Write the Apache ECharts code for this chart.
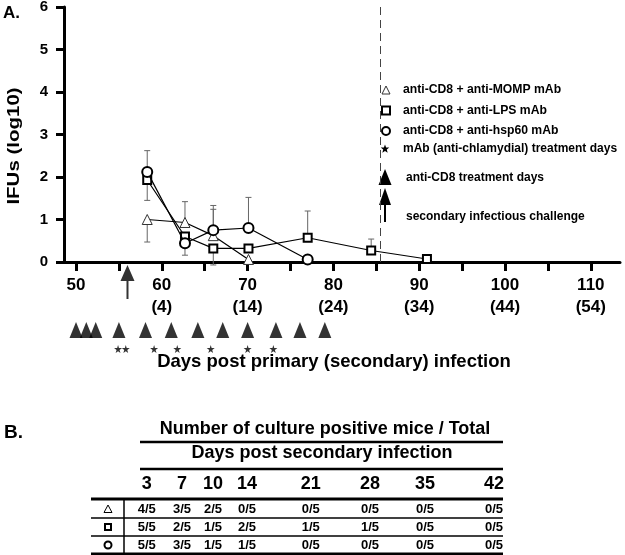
<!DOCTYPE html>
<html>
<head>
<meta charset="utf-8">
<script src="https://cdn.jsdelivr.net/npm/echarts@6/dist/echarts.min.js"></script>
<style>
html,body{margin:0;padding:0;background:#fff;}
#c{width:625px;height:555px;}
</style>
</head>
<body>
<div id="c"></div>
<script>
// ---------- DATA ----------
const sampleDays = [58.3, 62.7, 66, 70.1, 77, 84.4, 90.9];
const momp = [1.0, 0.93, 0.62, 0.06];
const lps = [1.93, 0.6, 0.32, 0.32, 0.57, 0.27, 0.07];
const hsp60 = [2.12, 0.44, 0.75, 0.8, 0.06];
// error bars: [day, low, high]
const mompErr = [[58.3, 0.47, 1.0], [62.7, 0.93, 1.42], [66, 0.62, 1.24]];
const lpsErr = [[58.3, 1.45, 1.93], [66, -0.07, 0.32], [77, 0.57, 1.2], [84.4, 0.27, 0.54]];
const hspErr = [[58.3, 2.12, 2.62], [62.7, 0.16, 0.44], [66, 0.75, 1.33], [70.1, 0.8, 1.52]];
const cd8Days = [50, 51.2, 52.3, 55, 58.1, 61.1, 64.2, 67.1, 70, 73.3, 76.1, 79];
const mAbDays = [54.9, 55.8, 59.1, 61.8, 65.7, 70, 73];
const challengeDay = [56];
const dashedDay = 85.5;
const xTickValues = [50, 60, 70, 80, 90, 100, 110];
const xTickLabels = ['50', '60\n(4)', '70\n(14)', '80\n(24)', '90\n(34)', '100\n(44)', '110\n(54)'];
const xMinorTicks = [50, 55, 60, 65, 70, 75, 80, 85, 90, 95, 100, 105, 110];
const seriesNames = ['anti-CD8 + anti-MOMP mAb', 'anti-CD8 + anti-LPS mAb', 'anti-CD8 + anti-hsp60 mAb'];
const tableDays = ['3', '7', '10', '14', '21', '28', '35', '42'];
const tableMOMP = ['4/5', '3/5', '2/5', '0/5', '0/5', '0/5', '0/5', '0/5'];
const tableLPS = ['5/5', '2/5', '1/5', '2/5', '1/5', '1/5', '0/5', '0/5'];
const tableHSP = ['5/5', '3/5', '1/5', '1/5', '0/5', '0/5', '0/5', '0/5'];

// ---------- BUILD ----------
const FONT = 'Liberation Sans, Arial, Helvetica, sans-serif';
const zip = (xs, ys) => ys.map((v, i) => [xs[i], v]);
const chart = echarts.init(document.getElementById('c'));

function errRender(params, api) {
  const x = api.value(0), lo = api.value(1), hi = api.value(2);
  const a = api.coord([x, lo]), b = api.coord([x, hi]);
  const st = {stroke: '#666', lineWidth: 1};
  return {type: 'group', children: [
    {type: 'line', shape: {x1: a[0], y1: a[1], x2: b[0], y2: b[1]}, style: st},
    {type: 'line', shape: {x1: a[0] - 3, y1: a[1], x2: a[0] + 3, y2: a[1]}, style: st},
    {type: 'line', shape: {x1: b[0] - 3, y1: b[1], x2: b[0] + 3, y2: b[1]}, style: st}
  ]};
}

const xMin = 48.6, xMax = 113.4;
const starPath = 'path://M50,0 L61,35 L98,35 L68,57 L79,91 L50,70 L21,91 L32,57 L2,35 L39,35 Z';
const arrowPath = 'path://M7,0 L14,16 L8,16 L8,34 L6,34 L6,16 L0,16 Z';

function starPoints(cx, cy, R) {
  const pts = [];
  for (let i = 0; i < 10; i++) {
    const r = i % 2 === 0 ? R : R * 0.42;
    const a = -Math.PI / 2 + i * Math.PI / 5;
    pts.push([cx + r * Math.cos(a), cy + r * Math.sin(a)]);
  }
  return pts;
}

const graphics = [];
const T = (x, y, text, size, opts = {}) => graphics.push(Object.assign({
  type: 'text', x, y, style: Object.assign({text, fontFamily: FONT, fontWeight: 'bold', fontSize: size, fill: '#000',
    textAlign: 'left', textVerticalAlign: 'middle'}, opts.style || {})
}, opts.el || {}));
const L = (x1, y1, x2, y2, w) => graphics.push({type: 'line', shape: {x1, y1, x2, y2}, style: {stroke: '#000', lineWidth: w}});

// panel A texts
T(3, 13, 'A.', 17);
graphics.push({type: 'text', x: 15, y: 146, rotation: Math.PI / 2, scaleX: 1.28,
  style: {text: 'IFUs (log10)', fontFamily: FONT, fontWeight: 'bold', fontSize: 16, fill: '#000', textAlign: 'center', textVerticalAlign: 'middle'}});
T(334, 362, 'Days post primary (secondary) infection', 18.5, {style: {textAlign: 'center'}});

// legend extras
graphics.push({type: 'polygon', shape: {points: starPoints(385, 149, 4.5)}, style: {fill: '#000'}});
T(403, 149, 'mAb (anti-chlamydial) treatment days', 12);
graphics.push({type: 'polygon', shape: {points: [[385, 169], [391.5, 185], [378.5, 185]]}, style: {fill: '#000'}});
T(406, 178, 'anti-CD8 treatment days', 12);
graphics.push({type: 'polygon', shape: {points: [[385, 188], [391, 205], [379, 205]]}, style: {fill: '#000'}});
L(385, 204, 385, 222, 2);
T(406, 217, 'secondary infectious challenge', 12);

// panel B table
T(4, 433, 'B.', 19);
T(325, 429, 'Number of culture positive mice / Total', 18, {style: {textAlign: 'center'}});
L(140, 442, 503, 442, 2.5);
T(322, 453, 'Days post secondary infection', 18, {style: {textAlign: 'center'}});
L(140, 469, 503, 469, 2.5);
const colX = [146.7, 182, 213, 247, 310.7, 370, 425, 494];
tableDays.forEach((d, i) => T(colX[i], 484, d, 18, {style: {textAlign: 'center'}}));
L(91, 499, 503, 499, 3);
const rowY = [509, 527, 545];
[tableMOMP, tableLPS, tableHSP].forEach((row, r) => row.forEach((v, i) =>
  T(colX[i], rowY[r], v, 13, {style: {textAlign: 'center'}})));
L(91, 518, 503, 518, 1.5);
L(91, 536, 503, 536, 1.5);
L(91, 554, 503, 554, 3);
L(124, 499, 124, 554, 1.5);
graphics.push({type: 'polygon', shape: {points: [[108, 505], [112, 512.5], [104, 512.5]]}, style: {fill: '#fff', stroke: '#000', lineWidth: 1}});
graphics.push({type: 'rect', shape: {x: 105, y: 524, width: 6, height: 6}, style: {fill: '#fff', stroke: '#000', lineWidth: 2}});
graphics.push({type: 'circle', shape: {cx: 108, cy: 545, r: 3.5}, style: {fill: '#fff', stroke: '#000', lineWidth: 2}});

const symStyle = (w) => ({color: '#fff', borderColor: '#000', borderWidth: w});

const option = {
  backgroundColor: '#fff',
  animation: false,
  textStyle: {fontFamily: FONT},
  grid: [
    {left: 64, right: 5, top: 7, bottom: 293, outerBoundsMode: 'none'},
    {left: 64, right: 5, top: 262, height: 100, outerBoundsMode: 'none'}
  ],
  legend: {
    orient: 'vertical', left: 381, top: 84, padding: 0, itemWidth: 8, itemHeight: 8, itemGap: 8.5,
    textStyle: {fontFamily: FONT, fontWeight: 'bold', fontSize: 12.2, color: '#000', padding: [0, 0, 0, 8]},
    data: [
      {name: seriesNames[0], icon: 'triangle', itemStyle: {color: '#fff', borderColor: '#333', borderWidth: 1}},
      {name: seriesNames[1], icon: 'rect', itemStyle: {color: '#fff', borderColor: '#000', borderWidth: 2}},
      {name: seriesNames[2], icon: 'circle', itemStyle: {color: '#fff', borderColor: '#000', borderWidth: 2}}
    ]
  },
  xAxis: [
    {type: 'value', gridIndex: 0, min: xMin, max: xMax,
      axisLine: {show: true, lineStyle: {color: '#000', width: 3}},
      axisTick: {show: true, customValues: xMinorTicks, length: 9, lineStyle: {color: '#000', width: 3}},
      axisLabel: {customValues: xTickValues, margin: 12, fontFamily: FONT, fontWeight: 'bold', fontSize: 17, color: '#000', lineHeight: 22,
        formatter: (v) => xTickLabels[xTickValues.indexOf(v)] || ''},
      splitLine: {show: false}},
    {type: 'value', gridIndex: 1, min: xMin, max: xMax, show: false}
  ],
  yAxis: [
    {type: 'value', gridIndex: 0, min: 0, max: 6, interval: 1,
      axisLine: {show: true, lineStyle: {color: '#000', width: 3}},
      axisTick: {show: true, length: 8, lineStyle: {color: '#000', width: 3}},
      axisLabel: {margin: 16, fontFamily: FONT, fontWeight: 'bold', fontSize: 15, color: '#000'},
      splitLine: {show: false}},
    {type: 'value', gridIndex: 1, min: 0, max: 100, inverse: true, show: false}
  ],
  series: [
    {type: 'custom', name: 'errM', xAxisIndex: 0, yAxisIndex: 0, renderItem: errRender, data: mompErr, z: 1, silent: true, encode: {x: 0, y: [1, 2]}},
    {type: 'custom', name: 'errL', xAxisIndex: 0, yAxisIndex: 0, renderItem: errRender, data: lpsErr, z: 1, silent: true, encode: {x: 0, y: [1, 2]}},
    {type: 'custom', name: 'errH', xAxisIndex: 0, yAxisIndex: 0, renderItem: errRender, data: hspErr, z: 1, silent: true, encode: {x: 0, y: [1, 2]}},
    {type: 'line', name: seriesNames[0], data: zip(sampleDays, momp), symbol: 'triangle', symbolSize: 10,
      itemStyle: {color: '#fff', borderColor: '#333', borderWidth: 1}, lineStyle: {color: '#000', width: 1.2}, z: 3},
    {type: 'line', name: seriesNames[1], data: zip(sampleDays, lps), symbol: 'rect', symbolSize: 8,
      itemStyle: symStyle(2), lineStyle: {color: '#000', width: 1.2}, z: 4,
      markLine: {silent: true, symbol: 'none', label: {show: false},
        lineStyle: {color: '#444', width: 1, type: [8, 5]}, data: [{xAxis: dashedDay}]}},
    {type: 'line', name: seriesNames[2], data: zip(sampleDays, hsp60), symbol: 'circle', symbolSize: 10,
      itemStyle: symStyle(2), lineStyle: {color: '#000', width: 1.2}, z: 5},
    {type: 'scatter', name: 'cd8', xAxisIndex: 1, yAxisIndex: 1, data: cd8Days.map(d => [d, 68]),
      symbol: 'triangle', symbolSize: [13, 16], itemStyle: {color: '#000'}, silent: true},
    {type: 'scatter', name: 'mab', xAxisIndex: 1, yAxisIndex: 1, data: mAbDays.map(d => [d, 87]),
      symbol: starPath, symbolSize: 8, itemStyle: {color: '#000'}, silent: true},
    {type: 'scatter', name: 'challenge', xAxisIndex: 1, yAxisIndex: 1, data: challengeDay.map(d => [d, 20]),
      symbol: arrowPath, symbolSize: [14, 34], itemStyle: {color: '#000'}, silent: true}
  ],
  graphic: graphics
};
chart.setOption(option);
</script>
</body>
</html>
